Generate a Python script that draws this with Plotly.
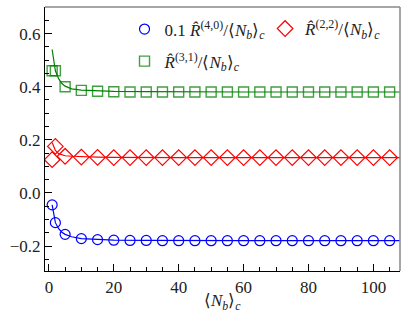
import plotly.graph_objects as go

# data
nb = [1, 2, 5, 10, 15, 20, 25, 30, 35, 40, 45, 50, 55, 60, 65, 70, 75, 80, 85, 90, 95, 100, 105]
r40 = [-0.045, -0.112, -0.156, -0.172, -0.176, -0.178, -0.179, -0.179, -0.18, -0.18, -0.18, -0.18,
       -0.18, -0.18, -0.18, -0.18, -0.18, -0.18, -0.18, -0.18, -0.18, -0.18, -0.18]
r22 = [0.125, 0.175, 0.138, 0.135, 0.134, 0.133, 0.133, 0.133, 0.133, 0.133, 0.133, 0.133,
       0.133, 0.133, 0.133, 0.133, 0.133, 0.133, 0.133, 0.133, 0.133, 0.133, 0.133]
r31 = [0.46, 0.46, 0.40, 0.386, 0.383, 0.381, 0.38, 0.38, 0.38, 0.38, 0.38, 0.38,
       0.38, 0.38, 0.38, 0.38, 0.38, 0.38, 0.38, 0.38, 0.38, 0.38, 0.38]

# fitted curves
fit_x = [1, 1.5, 2, 3, 4, 5, 7, 10, 15, 20, 30, 40, 60, 80, 108.2]
fit40 = [-0.045, -0.085, -0.112, -0.135, -0.148, -0.156, -0.165, -0.172, -0.176, -0.178, -0.179,
         -0.18, -0.18, -0.18, -0.18]
fit22 = [0.19, 0.172, 0.16, 0.148, 0.143, 0.14, 0.138, 0.136, 0.135, 0.134, 0.133, 0.133,
         0.133, 0.133, 0.133]
fit31 = [0.54, 0.49, 0.46, 0.43, 0.412, 0.402, 0.392, 0.387, 0.384, 0.382, 0.381, 0.38,
         0.38, 0.38, 0.38]

FONT = "Liberation Serif, Times New Roman, serif"
blue, red, green = "#0000ff", "#ff0000", "#008000"

fig = go.Figure()

for fx, col in [(fit40, blue), (fit22, red), (fit31, green)]:
    fig.add_trace(go.Scatter(x=fit_x, y=fx, mode="lines", line=dict(color=col, width=1.2),
                             showlegend=False, hoverinfo="skip"))

fig.add_trace(go.Scatter(
    x=nb, y=r40, mode="markers", legend="legend", legendgroup="a",
    name="0.1 <i>R&#770;</i><sup>(4,0)</sup>/⟨<i>N<sub>b</sub></i>⟩<sub><i>c</i></sub>",
    marker=dict(symbol="circle-open", size=10, color=blue, line=dict(width=1.2))))
fig.add_trace(go.Scatter(
    x=nb, y=r22, mode="markers", legend="legend2",
    name="<i>R&#770;</i><sup>(2,2)</sup>/⟨<i>N<sub>b</sub></i>⟩<sub><i>c</i></sub>",
    marker=dict(symbol="diamond-open", size=12, color=red, line=dict(width=1.2))))
fig.add_trace(go.Scatter(
    x=nb, y=r31, mode="markers", legend="legend", legendgroup="b",
    name="<i>R&#770;</i><sup>(3,1)</sup>/⟨<i>N<sub>b</sub></i>⟩<sub><i>c</i></sub>",
    marker=dict(symbol="square-open", size=10, color=green, opacity=0.75, line=dict(width=1.4))))

fig.update_layout(
    width=407, height=320,
    margin=dict(l=45, r=7, t=7, b=49),
    plot_bgcolor="white", paper_bgcolor="white",
    font=dict(family=FONT, size=17, color="#222"),
    legend=dict(x=0.224, y=0.983, xanchor="left", yanchor="top", bgcolor="rgba(0,0,0,0)",
                font=dict(family=FONT, size=17), traceorder="grouped", tracegroupgap=7),
    legend2=dict(x=0.62, y=0.985, xanchor="left", yanchor="top", bgcolor="rgba(0,0,0,0)",
                 font=dict(family=FONT, size=17)),
    shapes=[
        dict(type="line", xref="paper", yref="paper", x0=0, x1=1, y0=1, y1=1,
             line=dict(color="#888", width=1.5)),
        dict(type="line", xref="paper", yref="paper", x0=1, x1=1, y0=0, y1=1,
             line=dict(color="#888", width=1.5)),
    ],
    annotations=[dict(text="⟨<i>N<sub>b</sub></i>⟩<sub><i>c</i></sub>", xref="paper", yref="paper",
                      x=0.5, y=0, yanchor="top", yshift=-18, showarrow=False,
                      font=dict(family=FONT, size=17))],
)

fig.update_xaxes(
    range=[-1.2, 108.2], showgrid=False, zeroline=False,
    showline=True, linecolor="black", linewidth=1.2,
    ticks="inside", ticklen=7, tickwidth=1, tickcolor="black",
    tickvals=[0, 20, 40, 60, 80, 100],
    minor=dict(ticks="inside", ticklen=4, tickwidth=1, dtick=5, tick0=0, tickcolor="black"),
    tickfont=dict(family=FONT, size=17),
)
fig.update_yaxes(
    range=[-0.294, 0.7], showgrid=False, zeroline=False,
    showline=True, linecolor="black", linewidth=1.2,
    ticks="inside", ticklen=7, tickwidth=1, tickcolor="black",
    tickvals=[-0.2, 0.0, 0.2, 0.4, 0.6], tickformat=".1f",
    minor=dict(ticks="inside", ticklen=4, tickwidth=1, dtick=0.05, tick0=0, tickcolor="black"),
    tickfont=dict(family=FONT, size=17),
)

fig.write_html("out.html", config={"displayModeBar": False},
               post_script="document.body.style.margin='0';")
